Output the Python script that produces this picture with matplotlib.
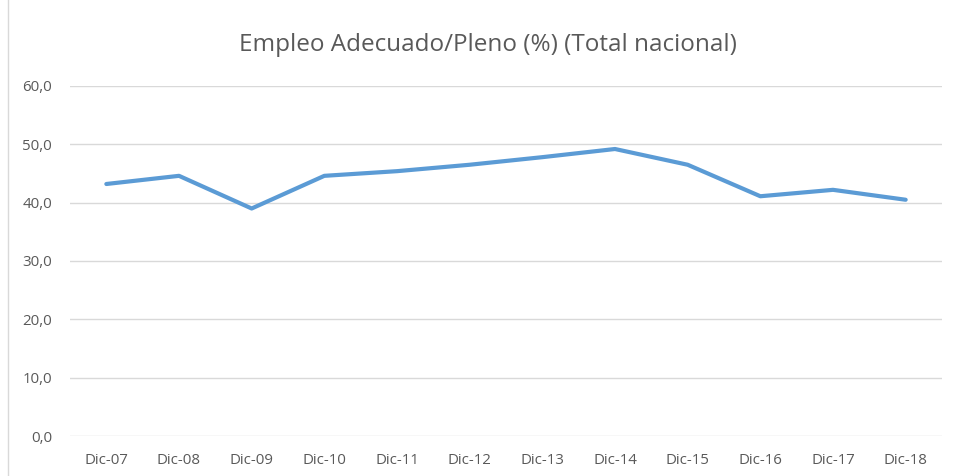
import matplotlib
matplotlib.use("Agg")
import matplotlib.pyplot as plt
from matplotlib.patches import Rectangle
from matplotlib.ticker import FuncFormatter

categories = ["Dic-07", "Dic-08", "Dic-09", "Dic-10", "Dic-11", "Dic-12",
              "Dic-13", "Dic-14", "Dic-15", "Dic-16", "Dic-17", "Dic-18"]
values = [43.2, 44.6, 39.0, 44.6, 45.4, 46.5, 47.8, 49.2, 46.5, 41.1, 42.2, 40.5]
yticks = [0, 10, 20, 30, 40, 50, 60]
title = "Empleo Adecuado/Pleno (%) (Total nacional)"

plt.rcParams['font.family'] = ['Open Sans', 'DejaVu Sans']

fig = plt.figure(figsize=(9.54, 4.76), dpi=100)
W, H = 954, 476
ax = fig.add_axes([70 / W, 1 - 436 / H, (942 - 70) / W, (436 - 86) / H])

x = list(range(len(categories)))
ax.plot(x, values, color="#5B9BD5", linewidth=3, solid_capstyle="round", solid_joinstyle="round")

ax.set_xlim(-0.5, len(categories) - 0.5)
ax.set_ylim(0, 60)
ax.set_yticks(yticks)
ax.yaxis.set_major_formatter(FuncFormatter(lambda v, p: f"{v:.1f}".replace(".", ",")))
ax.set_xticks(x)
ax.set_xticklabels(categories)
ax.grid(axis="y", color="#D9D9D9", linewidth=1)
ax.set_axisbelow(True)
for s in ax.spines.values():
    s.set_visible(False)
ax.tick_params(axis="both", length=0, labelsize=10.8, colors="#595959")
ax.tick_params(axis="y", pad=13)
ax.tick_params(axis="x", pad=12)

fig.text(488 / W, 1 - 45 / H, title, ha="center", va="center", fontsize=17.5, color="#595959")

fig.patches.append(Rectangle((8 / W, -0.01), (W - 8) / W, 1.02, transform=fig.transFigure,
                             fill=False, edgecolor="#D9D9D9", linewidth=1))

fig.savefig("out.png", dpi=100)
